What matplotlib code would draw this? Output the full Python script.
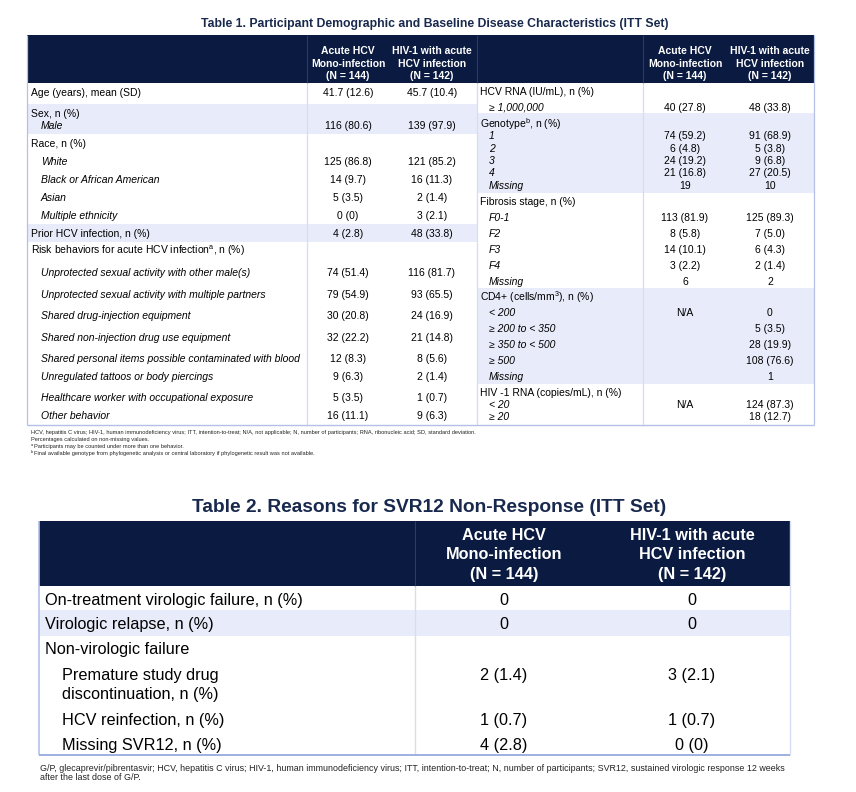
import matplotlib
matplotlib.use("Agg")
import matplotlib.pyplot as plt
from matplotlib.patches import Rectangle

# ------------------------- data -------------------------
t1_title = "Table 1. Participant Demographic and Baseline Disease Characteristics (ITT Set)"
t2_title = "Table 2. Reasons for SVR12 Non-Response (ITT Set)"
col_heads = [["Acute HCV", "Mono-infection", "(N = 144)"],
             ["HIV-1 with acute", "HCV infection", "(N = 142)"]]

left_labels = ["Age (years), mean (SD)", "Sex, n (%)", "Male", "Race, n (%)", "White",
               "Black or African American", "Asian", "Multiple ethnicity",
               "Prior HCV infection, n (%)",
               r"Risk behaviors for acute HCV infection$^{\mathrm{a}}$, n (%)",
               "Unprotected sexual activity with other male(s)",
               "Unprotected sexual activity with multiple partners",
               "Shared drug-injection equipment",
               "Shared non-injection drug use equipment",
               "Shared personal items possible contaminated with blood",
               "Unregulated tattoos or body piercings",
               "Healthcare worker with occupational exposure",
               "Other behavior"]
left_sub = [0, 0, 1, 0, 1, 1, 1, 1, 0, 0, 1, 1, 1, 1, 1, 1, 1, 1]
left_mono = ["41.7 (12.6)", "", "116 (80.6)", "", "125 (86.8)", "14 (9.7)", "5 (3.5)", "0 (0)",
             "4 (2.8)", "", "74 (51.4)", "79 (54.9)", "30 (20.8)", "32 (22.2)", "12 (8.3)",
             "9 (6.3)", "5 (3.5)", "16 (11.1)"]
left_hiv = ["45.7 (10.4)", "", "139 (97.9)", "", "121 (85.2)", "16 (11.3)", "2 (1.4)", "3 (2.1)",
            "48 (33.8)", "", "116 (81.7)", "93 (65.5)", "24 (16.9)", "21 (14.8)", "8 (5.6)",
            "2 (1.4)", "1 (0.7)", "9 (6.3)"]

right_labels = ["HCV RNA (IU/mL), n (%)", "≥ 1,000,000",
                r"Genotype$^{\mathrm{b}}$, n (%)", "1", "2", "3", "4", "Missing",
                "Fibrosis stage, n (%)", "F0-1", "F2", "F3", "F4", "Missing",
                r"CD4+ (cells/mm$^{\mathrm{3}}$), n (%)", "< 200", "≥ 200 to < 350",
                "≥ 350 to < 500", "≥ 500", "Missing",
                "HIV -1 RNA (copies/mL), n (%)", "< 20", "≥ 20"]
right_sub = [0, 1, 0, 1, 1, 1, 1, 1, 0, 1, 1, 1, 1, 1, 0, 1, 1, 1, 1, 1, 0, 1, 1]
right_mono = ["", "40 (27.8)", "", "74 (59.2)", "6 (4.8)", "24 (19.2)", "21 (16.8)", "19",
              "", "113 (81.9)", "8 (5.8)", "14 (10.1)", "3 (2.2)", "6",
              "", "N/A", "", "", "", "", "", "N/A", ""]
right_hiv = ["", "48 (33.8)", "", "91 (68.9)", "5 (3.8)", "9 (6.8)", "27 (20.5)", "10",
             "", "125 (89.3)", "7 (5.0)", "6 (4.3)", "2 (1.4)", "2",
             "", "0", "5 (3.5)", "28 (19.9)", "108 (76.6)", "1", "", "124 (87.3)", "18 (12.7)"]

t1_note_marks = ["", "", "a", "b"]
t1_notes = ["HCV, hepatitis C virus; HIV-1, human immunodeficiency virus; ITT, intention-to-treat; "
            "N/A, not applicable; N, number of participants; RNA, ribonucleic acid; SD, standard deviation.",
            "Percentages calculated on non-missing values.",
            "Participants may be counted under more than one behavior.",
            "Final available genotype from phylogenetic analysis or central laboratory "
            "if phylogenetic result was not available."]

t2_labels = ["On-treatment virologic failure, n (%)", "Virologic relapse, n (%)",
             "Non-virologic failure", "Premature study drug\ndiscontinuation, n (%)",
             "HCV reinfection, n (%)", "Missing SVR12, n (%)"]
t2_sub = [0, 0, 0, 1, 1, 1]
t2_mono = ["0", "0", "", "2 (1.4)", "1 (0.7)", "4 (2.8)"]
t2_hiv = ["0", "0", "", "3 (2.1)", "1 (0.7)", "0 (0)"]
t2_notes = ["G/P, glecaprevir/pibrentasvir; HCV, hepatitis C virus; HIV-1, human immunodeficiency virus; "
            "ITT, intention-to-treat; N, number of participants; SVR12, sustained virologic response 12 weeks",
            "after the last dose of G/P."]

# ------------------------- layout -------------------------
W, H = 856, 792
NAVY = "#0a1a40"
TITLE_C = "#18294d"
SHADE = "#e8ebf9"
BORDER = "#b4c0e6"
DIV = "#d6dcf2"
FONT = "Liberation Sans"

plt.rcParams["mathtext.fontset"] = "custom"
plt.rcParams["mathtext.rm"] = FONT
plt.rcParams["mathtext.it"] = FONT + ":italic"
plt.rcParams["mathtext.bf"] = FONT + ":bold"

fig = plt.figure(figsize=(W / 100, H / 100), dpi=100)
ax = fig.add_axes([0, 0, 1, 1])
ax.set_xlim(0, W)
ax.set_ylim(H, 0)
ax.axis("off")


def put(x, yc, s, size, weight="normal", style="normal", ha="left", color="black"):
    return ax.text(x, yc + 0.358 * size * 100 / 72, s, fontsize=size, fontweight=weight,
                   fontstyle=style, ha=ha, va="baseline", color=color, family=FONT)


def rect(x0, y0, x1, y1, c):
    ax.add_patch(Rectangle((x0, y0), x1 - x0, y1 - y0, facecolor=c, edgecolor="none", zorder=0))


def vline(x, y0, y1, c, lw=0.8):
    ax.plot([x, x], [y0, y1], color=c, lw=lw, zorder=1, solid_capstyle="butt")


def hline(y, x0, x1, c, lw=0.8):
    ax.plot([x0, x1], [y, y], color=c, lw=lw, zorder=1, solid_capstyle="butt")


# ---------------- Table 1 ----------------
T1_L, T1_MID, T1_R = 27, 477, 814
T1_HT, T1_HB, T1_B = 35, 83, 425
L_DIV, R_DIV = 307, 643
L_C1, L_C2, R_C1, R_C2 = 348, 432, 685, 770
FS1 = 7.5

put(435, 23, t1_title, 8.85, weight="bold", ha="center", color=TITLE_C)
rect(T1_L, T1_HT, T1_R, T1_HB, NAVY)
for x in (L_DIV, T1_MID, R_DIV):
    vline(x, T1_HT, T1_HB, "#2b3b63", 0.8)
head_y = [50, 63, 75]
for cx_pair in ((L_C1, L_C2), (R_C1, R_C2)):
    for cx, lines in zip(cx_pair, col_heads):
        for yy, line in zip(head_y, lines):
            put(cx, yy, line, FS1, weight="bold", ha="center", color="white")

# shading bands
for y0, y1 in ((104, 134), (224, 242)):
    rect(T1_L, y0, T1_MID, y1, SHADE)
for y0, y1 in ((113, 193), (288, 384)):
    rect(T1_MID, y0, T1_R, y1, SHADE)

for x in (L_DIV, R_DIV):
    vline(x, T1_HB, T1_B, DIV, 0.9)
vline(T1_MID, T1_HB, T1_B, DIV, 0.9)
vline(T1_L, T1_HT, T1_B, BORDER, 0.9)
vline(T1_R, T1_HT, T1_B, BORDER, 0.9)
hline(T1_B, T1_L, T1_R, BORDER, 1.0)

left_y = [92, 113, 125, 143, 161, 179, 197, 215, 233, 250, 272, 294, 315, 337, 358, 376, 397, 415]
for yy, lab, sub, m, h in zip(left_y, left_labels, left_sub, left_mono, left_hiv):
    put(41 if sub else 31, yy, lab, FS1, style="italic" if sub else "normal")
    if m:
        put(L_C1, yy, m, FS1, ha="center")
    if h:
        put(L_C2, yy, h, FS1, ha="center")

right_y = [91, 107, 124, 135, 148, 160, 172, 185, 201, 217, 233, 249, 265, 281,
           297, 312, 328, 344, 360, 376, 392, 404, 416]
for yy, lab, sub, m, h in zip(right_y, right_labels, right_sub, right_mono, right_hiv):
    put(489 if sub else 480, yy, lab, FS1, style="italic" if sub else "normal")
    if m:
        put(R_C1, yy, m, FS1, ha="center")
    if h:
        put(R_C2, yy, h, FS1, ha="center")

FN1 = 4.05
for yy, mark, note in zip([432, 439, 446, 453], t1_note_marks, t1_notes):
    x0 = 31
    if mark:
        put(x0, yy - 1.2, mark, 2.8, color="#222222")
        x0 += 3.2
    put(x0, yy, note, FN1, color="#222222")

# ---------------- Table 2 ----------------
T2_L, T2_DIV, T2_R = 39, 415, 790
T2_HT, T2_HB, T2_B = 521, 586, 755
T2_C1, T2_C2 = 504, 692
FS2 = 11.7

put(429, 505, t2_title, 13.8, weight="bold", ha="center", color=TITLE_C)
rect(T2_L, T2_HT, T2_R, T2_HB, NAVY)
vline(T2_DIV, T2_HT, T2_HB, "#2b3b63", 0.8)
for cx, lines in zip((T2_C1, T2_C2), col_heads):
    for yy, line in zip([534, 553, 573], lines):
        put(cx, yy, line, FS2, weight="bold", ha="center", color="white")

rect(T2_L, 610, T2_R, 636, SHADE)
vline(T2_DIV, T2_HB, T2_B, DIV, 1.0)
vline(T2_L, T2_HT, T2_B, BORDER, 1.2)
vline(T2_R, T2_HT, T2_B, DIV, 1.0)
hline(T2_B, T2_L, T2_R, "#9fb0e0", 1.4)

t2_y = [599, 623, 648, 674, 719, 744]
for yy, lab, sub, m, h in zip(t2_y, t2_labels, t2_sub, t2_mono, t2_hiv):
    for k, part in enumerate(lab.split("\n")):
        put(62 if sub else 45, yy + k * 19.5, part, FS2)
    if m:
        put(T2_C1, yy, m, FS2, ha="center")
    if h:
        put(T2_C2, yy, h, FS2, ha="center")

for yy, note in zip([768, 777], t2_notes):
    put(40, yy, note, 6.4, color="#222222")

fig.savefig("out.png", dpi=100)
